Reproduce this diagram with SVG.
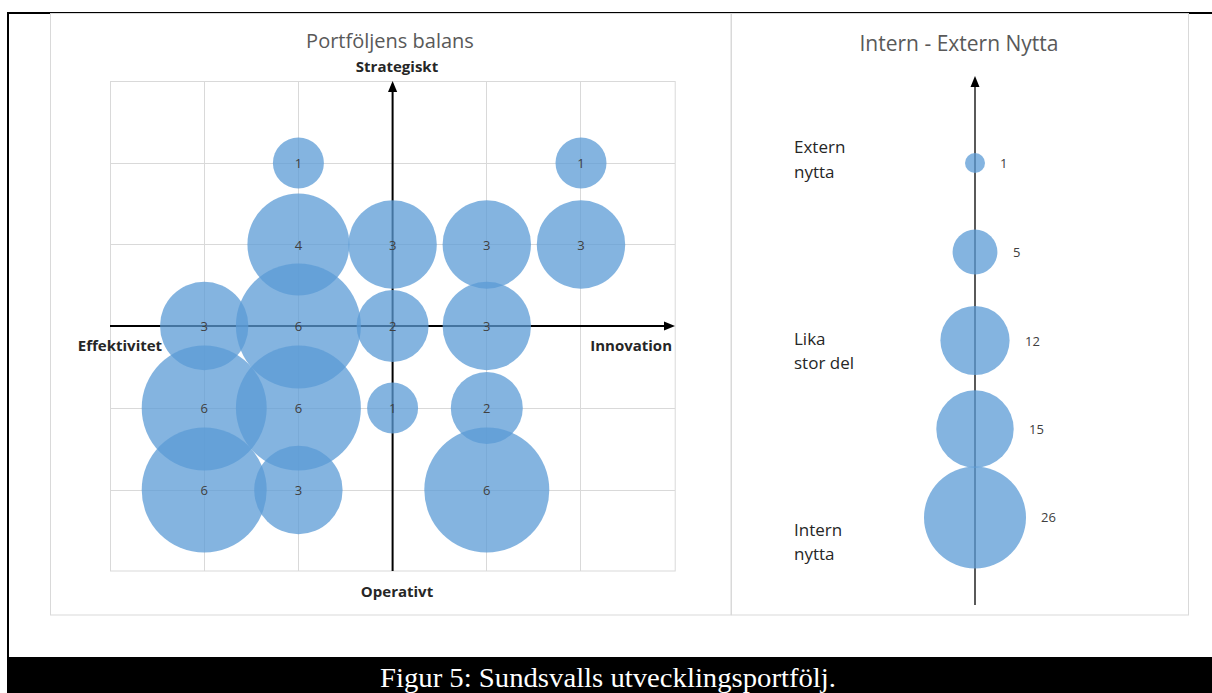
<svg xmlns="http://www.w3.org/2000/svg" width="1212" height="693" viewBox="0 0 1212 693">
<style>
.panel{fill:#fff;stroke:#d9d9d9;stroke-width:1}
.grid{stroke:#d9d9d9;stroke-width:1;fill:none}
.bub{fill:#5B9BD5;fill-opacity:0.75}
.num{font-family:"Open Sans","Liberation Sans",sans-serif;font-size:13px;fill:#404040;text-anchor:middle;dominant-baseline:central}
.rnum{font-family:"Open Sans","Liberation Sans",sans-serif;font-size:13px;fill:#404040;dominant-baseline:central}
.title{font-family:"Open Sans","Liberation Sans",sans-serif;font-size:20px;fill:#595959;text-anchor:middle}
.ax{font-family:"Open Sans","Liberation Sans",sans-serif;font-size:15px;font-weight:bold;fill:#262626}
.lbl{font-family:"Open Sans","Liberation Sans",sans-serif;font-size:17px;fill:#262626}
.cap{font-family:"Liberation Serif","Times New Roman",serif;font-size:27px;fill:#fff;text-anchor:middle}
</style>
<rect x="0" y="0" width="1212" height="693" fill="#fff"/>
<!-- page frame -->
<line x1="7" y1="13" x2="1212" y2="13" stroke="#000" stroke-width="2"/>
<line x1="8" y1="12" x2="8" y2="660" stroke="#000" stroke-width="2"/>
<rect x="7" y="657" width="1205" height="36" fill="#000"/>
<text class="cap" x="608" y="687" textLength="456" lengthAdjust="spacingAndGlyphs">Figur 5: Sundsvalls utvecklingsportfölj.</text>

<g id="panel-left">
<rect class="panel" x="50.5" y="13.5" width="680.5" height="601.5"/>
<text class="title" x="390" y="48">Portföljens balans</text>
<g id="grid">
<rect class="grid" x="110.5" y="81.5" width="564.7" height="489.5"/>
<path class="grid" d="M204.5 81.5V571M298.5 81.5V571M486.5 81.5V571M580.5 81.5V571M110.5 163.5H675M110.5 244.5H675M110.5 408.5H675M110.5 490.5H675"/>
</g>
<g id="axes">
<line x1="110" y1="326" x2="666" y2="326" stroke="#000" stroke-width="2"/>
<polygon points="675,326 664,321.5 664,330.5" fill="#000"/>
<line x1="392.6" y1="571" x2="392.6" y2="90" stroke="#000" stroke-width="2"/>
<polygon points="392.6,81 388,92 397.2,92" fill="#000"/>
</g>
<text class="ax" x="397" y="72" text-anchor="middle">Strategiskt</text>
<text class="ax" x="120" y="351" text-anchor="middle">Effektivitet</text>
<text class="ax" x="672" y="351" text-anchor="end">Innovation</text>
<text class="ax" x="397" y="597" text-anchor="middle">Operativt</text>
<g id="bubbles-left">
<circle class="bub" cx="298.4" cy="163" r="25.5"/>
<circle class="bub" cx="581" cy="163" r="25.5"/>
<circle class="bub" cx="298.4" cy="244.5" r="51"/>
<circle class="bub" cx="392.6" cy="244.5" r="44.2"/>
<circle class="bub" cx="486.8" cy="244.5" r="44.2"/>
<circle class="bub" cx="581" cy="244.5" r="44.2"/>
<circle class="bub" cx="204.2" cy="326" r="44.2"/>
<circle class="bub" cx="298.4" cy="326" r="62.5"/>
<circle class="bub" cx="392.6" cy="326" r="36"/>
<circle class="bub" cx="486.8" cy="326" r="44.2"/>
<circle class="bub" cx="204.2" cy="408" r="62.5"/>
<circle class="bub" cx="298.4" cy="408" r="62.5"/>
<circle class="bub" cx="392.6" cy="408" r="25.5"/>
<circle class="bub" cx="486.8" cy="408" r="36"/>
<circle class="bub" cx="204.2" cy="490" r="62.5"/>
<circle class="bub" cx="298.4" cy="490" r="44.2"/>
<circle class="bub" cx="486.8" cy="490" r="62.5"/>
</g>
<g id="labels-left">
<text class="num" x="298.4" y="163">1</text>
<text class="num" x="581" y="163">1</text>
<text class="num" x="298.4" y="244.5">4</text>
<text class="num" x="392.6" y="244.5">3</text>
<text class="num" x="486.8" y="244.5">3</text>
<text class="num" x="581" y="244.5">3</text>
<text class="num" x="204.2" y="326">3</text>
<text class="num" x="298.4" y="326">6</text>
<text class="num" x="392.6" y="326">2</text>
<text class="num" x="486.8" y="326">3</text>
<text class="num" x="204.2" y="408">6</text>
<text class="num" x="298.4" y="408">6</text>
<text class="num" x="392.6" y="408">1</text>
<text class="num" x="486.8" y="408">2</text>
<text class="num" x="204.2" y="490">6</text>
<text class="num" x="298.4" y="490">3</text>
<text class="num" x="486.8" y="490">6</text>
</g>
</g>

<g id="panel-right">
<rect class="panel" x="731.5" y="13.5" width="457" height="601.5"/>
<text class="title" x="959" y="51" style="font-size:21px">Intern - Extern Nytta</text>
<g id="axis-right">
<line x1="975" y1="605" x2="975" y2="85" stroke="#000" stroke-width="1.3"/>
<polygon points="975,76 970.5,87 979.5,87" fill="#000"/>
</g>
<g id="bubbles-right">
<circle class="bub" cx="975" cy="163" r="10"/>
<circle class="bub" cx="975" cy="252" r="22.4"/>
<circle class="bub" cx="975" cy="340.5" r="34.6"/>
<circle class="bub" cx="975" cy="429" r="38.7"/>
<circle class="bub" cx="975" cy="517.5" r="51"/>
</g>
<g id="labels-right">
<text class="rnum" x="1000" y="163">1</text>
<text class="rnum" x="1013" y="252">5</text>
<text class="rnum" x="1025" y="340.5">12</text>
<text class="rnum" x="1029" y="429">15</text>
<text class="rnum" x="1041" y="517">26</text>
<text class="lbl" x="794" y="153">Extern</text>
<text class="lbl" x="794" y="178">nytta</text>
<text class="lbl" x="794" y="345">Lika</text>
<text class="lbl" x="794" y="369">stor del</text>
<text class="lbl" x="794" y="536">Intern</text>
<text class="lbl" x="794" y="560">nytta</text>
</g>
</g>
</svg>
